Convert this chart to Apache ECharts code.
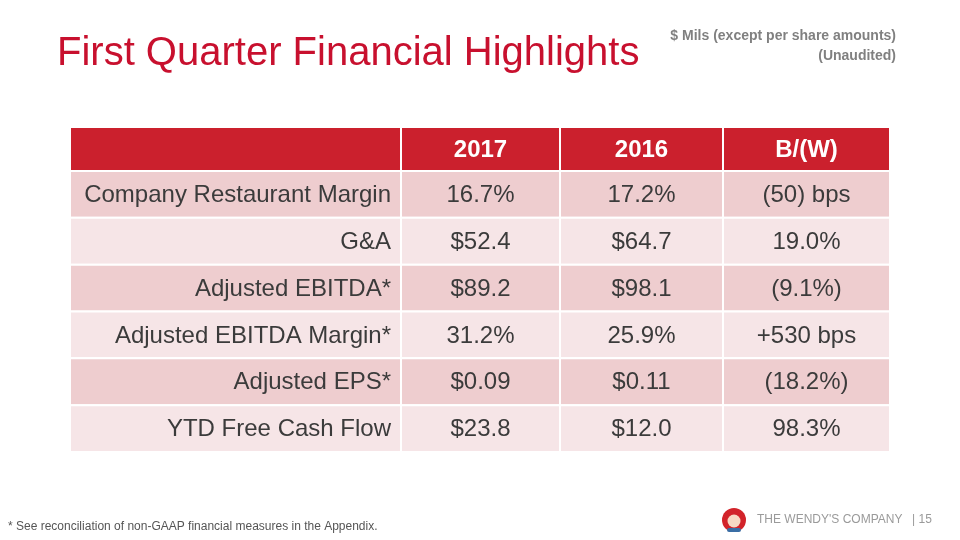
<!DOCTYPE html>
<html><head><meta charset="utf-8">
<script src="https://cdn.jsdelivr.net/npm/echarts@6/dist/echarts.min.js"></script>
<style>html,body{margin:0;padding:0;background:#fff}#c{width:960px;height:540px}</style>
</head><body><div id="c"></div>
<script>
// ---- data ----
const rowLabels = ['Company Restaurant Margin','G&A','Adjusted EBITDA*','Adjusted EBITDA Margin*','Adjusted EPS*','YTD Free Cash Flow'];
const colHeaders = ['2017','2016','B/(W)'];
const values2017 = ['16.7%','$52.4','$89.2','31.2%','$0.09','$23.8'];
const values2016 = ['17.2%','$64.7','$98.1','25.9%','$0.11','$12.0'];
const betterWorse = ['(50) bps','19.0%','(9.1%)','+530 bps','(18.2%)','98.3%'];
const titleText = 'First Quarter Financial Highlights';
const noteLines = ['$ Mils (except per share amounts)','(Unaudited)'];
const footnote = '* See reconciliation of non-GAAP financial measures in the Appendix.';
const companyText = "THE WENDY'S COMPANY";
const pageText = '| 15';

// ---- layout (not data) ----
const colEdges = [0, 331, 490, 653, 820];
const headerH = 44, rowH = (325 - 44) / 6;
function rowTop(r){ return r === 0 ? 0 : headerH + (r - 1) * rowH; }
function rowBot(r){ return r === 0 ? headerH : headerH + r * rowH; }

const columns = [rowLabels, values2017, values2016, betterWorse];
const cells = [];
cells.push([0, 0, '', 'h']);
colHeaders.forEach((h, i) => cells.push([i + 1, 0, h, 'h']));
for (let r = 0; r < rowLabels.length; r++) {
  for (let c = 0; c < 4; c++) cells.push([c, r + 1, columns[c][r], r % 2 === 0 ? 'd' : 'l']);
}
const fills = { h: '#CB202D', d: '#EECDCF', l: '#F6E5E7' };

const chart = echarts.init(document.getElementById('c'), null, { renderer: 'canvas' });
chart.setOption({
  backgroundColor: '#ffffff',
  animation: false,
  grid: { left: 70, right: 70, top: 127, bottom: 88 },
  xAxis: { type: 'value', min: 0, max: 820, show: false },
  yAxis: { type: 'value', min: 0, max: 325, inverse: true, show: false },
  series: [{
    type: 'custom',
    data: cells,
    encode: { x: 0, y: 1 },
    renderItem: function (params, api) {
      const c = api.value(0), r = api.value(1);
      const kind = cells[params.dataIndex][3];
      const text = cells[params.dataIndex][2];
      const p0 = api.coord([colEdges[c], rowTop(r)]);
      const p1 = api.coord([colEdges[c + 1], rowBot(r)]);
      const w = p1[0] - p0[0], h = p1[1] - p0[1];
      let tx, align;
      if (c === 0) { tx = p1[0] - 10; align = 'right'; }
      else { tx = p0[0] + w / 2; align = 'center'; }
      return {
        type: 'group',
        children: [
          { type: 'rect', shape: { x: p0[0], y: p0[1], width: w, height: h },
            style: { fill: fills[kind], stroke: '#ffffff', lineWidth: 2 } },
          { type: 'text', style: {
              text: text, x: tx, y: p0[1] + h / 2 + 1, align: align, verticalAlign: 'middle',
              fill: kind === 'h' ? '#ffffff' : '#3b3b3b',
              font: (kind === 'h' ? 'bold 24px' : '24px') + ' "Liberation Sans", Arial, sans-serif'
          } }
        ]
      };
    }
  }],
  graphic: [
    { type: 'text', left: 57, top: 34, style: { text: titleText, fill: '#C8102E', font: '40px "Liberation Sans", Arial, sans-serif' } },
    { type: 'text', right: 64, top: 29, style: { text: noteLines[0], fill: '#808080', font: 'bold 14px "Liberation Sans", Arial, sans-serif' } },
    { type: 'text', right: 64, top: 49, style: { text: noteLines[1], fill: '#808080', font: 'bold 14px "Liberation Sans", Arial, sans-serif' } },
    { type: 'text', left: 8, top: 521, style: { text: footnote, fill: '#555555', font: '12px "Liberation Sans", Arial, sans-serif' } },
    { type: 'text', left: 757, top: 514, style: { text: companyText, fill: '#9a9a9a', font: '12px "Liberation Sans", Arial, sans-serif' } },
    { type: 'text', left: 912, top: 514, style: { text: pageText, fill: '#9a9a9a', font: '12px "Liberation Sans", Arial, sans-serif' } },
    { type: 'group', left: 722, top: 508, children: [
      { type: 'circle', shape: { cx: 12, cy: 12, r: 12 }, style: { fill: '#D2232A' } },
      { type: 'circle', shape: { cx: 12, cy: 13, r: 6.5 }, style: { fill: '#F8D9C4' } },
      { type: 'rect', shape: { x: 5, y: 20, width: 14, height: 4, r: 2 }, style: { fill: '#3A6EA5' } }
    ] }
  ]
});
</script>
</body></html>
